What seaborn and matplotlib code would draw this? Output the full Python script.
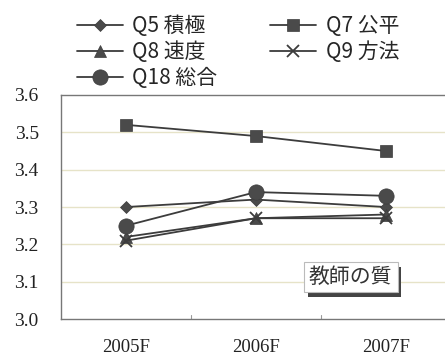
import matplotlib
matplotlib.use("Agg")
import matplotlib.pyplot as plt
import seaborn as sns
import pandas as pd
from matplotlib.patches import FancyBboxPatch

sns.set_theme(style="white")
plt.rcParams['font.family'] = ['Noto Sans CJK JP', 'DejaVu Sans']

years = ["2005F", "2006F", "2007F"]
series_names = ["Q5 積極", "Q7 公平", "Q8 速度", "Q9 方法", "Q18 総合"]
q5 = [3.30, 3.32, 3.30]
q7 = [3.52, 3.49, 3.45]
q8 = [3.22, 3.27, 3.28]
q9 = [3.21, 3.27, 3.27]
q18 = [3.25, 3.34, 3.33]
yticks = [3.0, 3.1, 3.2, 3.3, 3.4, 3.5, 3.6]
box_label = "教師の質"

values = [q5, q7, q8, q9, q18]
markers = ["D", "s", "^", "x", "o"]
msizes = [6, 8, 8, 8, 11]

df = pd.DataFrame({
    "year": years * len(series_names),
    "pos": list(range(len(years))) * len(series_names),
    "series": [s for s in series_names for _ in years],
    "value": [v for vals in values for v in vals],
})

fig = plt.figure(figsize=(4.45, 3.61), dpi=100)
ax = fig.add_axes([0.137, 0.116, 0.876, 0.621])

line_color = "#3c3c3c"
handles = {}
for name, mk, ms in zip(series_names, markers, msizes):
    sub = df[df["series"] == name]
    sns.lineplot(data=sub, x="pos", y="value", ax=ax, color=line_color,
                 marker=mk, markersize=ms, linewidth=1.3,
                 markeredgecolor=line_color,
                 markerfacecolor="#4a4a4a", markeredgewidth=1.3 if mk == "x" else 0.5,
                 label=name, legend=False)
    handles[name] = ax.lines[-1]

ax.set_xlim(-0.5, 2.5)
ax.set_ylim(3.0, 3.6)
ax.set_yticks(yticks)
ax.set_yticklabels([f"{t:.1f}" for t in yticks], family="Liberation Serif",
                   fontsize=14, color="#222222")
ax.set_xticks(range(len(years)))
ax.set_xticklabels(years, family="Liberation Serif", fontsize=13.5, color="#222222")
ax.set_xlabel("")
ax.set_ylabel("")
ax.tick_params(axis="y", length=0, pad=16)
ax.tick_params(axis="x", length=0, pad=14)

# gridlines
for t in yticks[1:-1]:
    ax.axhline(t, color="#e6e3c8", linewidth=1.0, zorder=0)
# category separators along the bottom
for b in [0.5, 1.5]:
    ax.plot([b, b], [3.0, 3.012], color="#9a9a9a", linewidth=0.8, clip_on=False)

for side in ["left", "bottom", "top"]:
    ax.spines[side].set_color("#777777")
    ax.spines[side].set_linewidth(1.0)
ax.spines["right"].set_visible(False)

# labelled box with drop shadow
bx, by, bw, bh = 1.37, 3.072, 0.72, 0.08
shadow = FancyBboxPatch((bx + 0.03, by - 0.012), bw, bh, boxstyle="square,pad=0",
                        facecolor="#444444", edgecolor="none", zorder=5)
box = FancyBboxPatch((bx, by), bw, bh, boxstyle="square,pad=0",
                     facecolor="white", edgecolor="#bbbbbb", linewidth=0.8, zorder=6)
ax.add_patch(shadow)
ax.add_patch(box)
ax.text(bx + bw / 2, by + bh / 2, box_label, ha="center", va="center",
        fontsize=15, color="#333333", zorder=7)

order = ["Q5 積極", "Q8 速度", "Q18 総合", "Q7 公平", "Q9 方法"]
fig.legend([handles[n] for n in order], order, ncol=2, loc="upper left",
           bbox_to_anchor=(77 / 445, 1 - 15 / 361), frameon=False, fontsize=15,
           handlelength=2.2, handletextpad=0.45, columnspacing=2.55,
           labelspacing=0.2, borderpad=0, borderaxespad=0)

fig.savefig("out.png", dpi=100, facecolor="white")
